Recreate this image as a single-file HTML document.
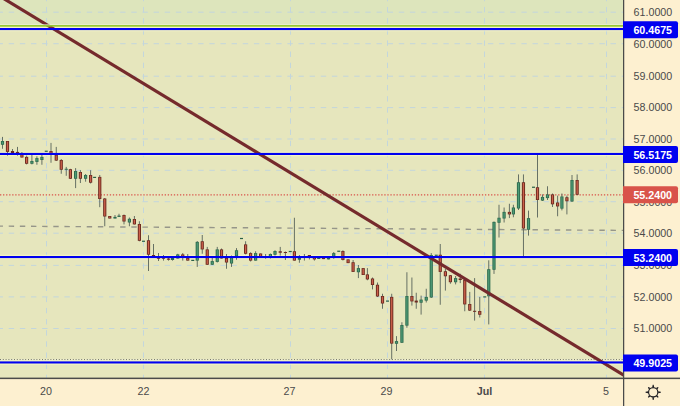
<!DOCTYPE html><html><head><meta charset="utf-8"><title>chart</title>
<style>html,body{margin:0;padding:0;background:#fdf0d0;overflow:hidden}svg{display:block}text{font-family:"Liberation Sans",sans-serif;font-size:10.7px}</style>
</head><body>
<svg width="680" height="406" viewBox="0 0 680 406">
<rect x="0" y="0" width="680" height="406" fill="#fdf0d0"/>
<rect x="0" y="0" width="623" height="378" fill="#e6e6bd"/>
<rect x="0" y="0" width="623" height="25" fill="#dde5bc"/>
<g stroke="#c3d6dc" stroke-width="1" stroke-dasharray="5.4 5.745" fill="none">
<line x1="0" y1="360.0" x2="623" y2="360.0" stroke-dashoffset="2.43"/>
<line x1="0" y1="328.5" x2="623" y2="328.5" stroke-dashoffset="2.43"/>
<line x1="0" y1="296.9" x2="623" y2="296.9" stroke-dashoffset="2.43"/>
<line x1="0" y1="265.4" x2="623" y2="265.4" stroke-dashoffset="2.43"/>
<line x1="0" y1="233.2" x2="623" y2="233.2" stroke-dashoffset="2.43"/>
<line x1="0" y1="201.7" x2="623" y2="201.7" stroke-dashoffset="2.43"/>
<line x1="0" y1="170.3" x2="623" y2="170.3" stroke-dashoffset="2.43"/>
<line x1="0" y1="139.0" x2="623" y2="139.0" stroke-dashoffset="2.43"/>
<line x1="0" y1="107.6" x2="623" y2="107.6" stroke-dashoffset="2.43"/>
<line x1="0" y1="76.2" x2="623" y2="76.2" stroke-dashoffset="2.43"/>
<line x1="0" y1="43.7" x2="623" y2="43.7" stroke-dashoffset="2.43"/>
<line x1="0" y1="12.2" x2="623" y2="12.2" stroke-dashoffset="2.43"/>
<line x1="46.5" y1="0" x2="46.5" y2="378" stroke-dashoffset="4.17"/>
<line x1="143.5" y1="0" x2="143.5" y2="378" stroke-dashoffset="4.17"/>
<line x1="290.5" y1="0" x2="290.5" y2="378" stroke-dashoffset="4.17"/>
<line x1="387.5" y1="0" x2="387.5" y2="378" stroke-dashoffset="4.17"/>
<line x1="484.5" y1="0" x2="484.5" y2="378" stroke-dashoffset="4.17"/>
<line x1="606.5" y1="0" x2="606.5" y2="378" stroke-dashoffset="4.17"/>
</g>
<line x1="0" y1="226.1" x2="623" y2="230.4" stroke="#96968a" stroke-width="1.4" stroke-dasharray="5.4 5.745" stroke-dashoffset="2.43"/>
<line x1="0" y1="194.8" x2="623" y2="194.8" stroke="#d9534a" stroke-width="1.25" stroke-dasharray="1.3 1.75"/>
<rect x="0" y="359" width="623" height="1.3" fill="#f6f6d6" opacity="0.7"/>
<line x1="0" y1="359.6" x2="623" y2="359.6" stroke="#6a6a60" stroke-width="1" stroke-dasharray="1 1.8"/>
<rect x="0" y="26.8" width="623" height="4.5" fill="#f8f8c6" opacity="0.8"/>
<rect x="0" y="151.7" width="623" height="4.5" fill="#f8f8c6" opacity="0.8"/>
<rect x="0" y="254.8" width="623" height="4.5" fill="#f8f8c6" opacity="0.8"/>
<rect x="0" y="360.2" width="623" height="4.5" fill="#f8f8c6" opacity="0.8"/>
<g id="candles">
<rect x="2.00" y="136.90" width="1" height="11.85" fill="#667064"/>
<rect x="0.90" y="141.00" width="3.2" height="3.75" fill="#2d6b4f"/>
<rect x="1.85" y="141.70" width="1.3" height="2.35" fill="#4f9b76"/>
<rect x="7.00" y="141.00" width="1" height="14.60" fill="#667064"/>
<rect x="5.90" y="141.00" width="3.2" height="10.90" fill="#6c2a20"/>
<rect x="6.85" y="141.70" width="1.3" height="9.50" fill="#cc604a"/>
<rect x="12.00" y="149.00" width="1" height="5.00" fill="#667064"/>
<rect x="10.90" y="151.00" width="3.2" height="2.00" fill="#6c2a20"/>
<rect x="17.00" y="146.90" width="1" height="8.70" fill="#667064"/>
<rect x="15.90" y="151.90" width="3.2" height="1.60" fill="#6c2a20"/>
<rect x="21.40" y="152.00" width="1" height="5.50" fill="#667064"/>
<rect x="20.30" y="153.50" width="3.2" height="4.00" fill="#6c2a20"/>
<rect x="21.25" y="154.20" width="1.3" height="2.60" fill="#cc604a"/>
<rect x="26.10" y="155.60" width="1" height="8.80" fill="#667064"/>
<rect x="25.00" y="156.90" width="3.2" height="6.85" fill="#6c2a20"/>
<rect x="25.95" y="157.60" width="1.3" height="5.45" fill="#cc604a"/>
<rect x="31.40" y="155.00" width="1" height="9.40" fill="#667064"/>
<rect x="30.30" y="161.00" width="3.2" height="2.75" fill="#2d6b4f"/>
<rect x="31.25" y="161.70" width="1.3" height="1.35" fill="#4f9b76"/>
<rect x="36.40" y="156.25" width="1" height="8.50" fill="#667064"/>
<rect x="35.30" y="158.10" width="3.2" height="3.80" fill="#2d6b4f"/>
<rect x="36.25" y="158.80" width="1.3" height="2.40" fill="#4f9b76"/>
<rect x="41.40" y="155.00" width="1" height="9.75" fill="#667064"/>
<rect x="40.30" y="156.90" width="3.2" height="3.10" fill="#2d6b4f"/>
<rect x="41.25" y="157.60" width="1.3" height="1.70" fill="#4f9b76"/>
<rect x="44.75" y="150.65" width="3" height="1.2" fill="#2a6048"/>
<rect x="50.50" y="142.90" width="1" height="19.85" fill="#667064"/>
<rect x="49.40" y="151.00" width="3.2" height="3.00" fill="#6c2a20"/>
<rect x="50.35" y="151.70" width="1.3" height="1.60" fill="#cc604a"/>
<rect x="55.75" y="146.90" width="1" height="14.10" fill="#667064"/>
<rect x="54.65" y="154.75" width="3.2" height="5.85" fill="#6c2a20"/>
<rect x="55.60" y="155.45" width="1.3" height="4.45" fill="#cc604a"/>
<rect x="60.75" y="159.00" width="1" height="14.75" fill="#667064"/>
<rect x="59.65" y="160.00" width="3.2" height="9.75" fill="#6c2a20"/>
<rect x="60.60" y="160.70" width="1.3" height="8.35" fill="#cc604a"/>
<rect x="65.75" y="166.90" width="1" height="8.90" fill="#667064"/>
<rect x="64.65" y="168.75" width="3.2" height="1.00" fill="#2d6b4f"/>
<rect x="69.90" y="168.80" width="1" height="10.20" fill="#667064"/>
<rect x="68.80" y="169.20" width="3.2" height="9.55" fill="#6c2a20"/>
<rect x="69.75" y="169.90" width="1.3" height="8.15" fill="#cc604a"/>
<rect x="75.10" y="168.10" width="1" height="20.00" fill="#667064"/>
<rect x="74.00" y="171.00" width="3.2" height="7.75" fill="#2d6b4f"/>
<rect x="74.95" y="171.70" width="1.3" height="6.35" fill="#4f9b76"/>
<rect x="79.90" y="170.10" width="1" height="12.90" fill="#667064"/>
<rect x="78.80" y="172.00" width="3.2" height="6.75" fill="#6c2a20"/>
<rect x="79.75" y="172.70" width="1.3" height="5.35" fill="#cc604a"/>
<rect x="85.10" y="174.00" width="1" height="7.70" fill="#667064"/>
<rect x="84.00" y="175.00" width="3.2" height="3.75" fill="#2d6b4f"/>
<rect x="84.95" y="175.70" width="1.3" height="2.35" fill="#4f9b76"/>
<rect x="90.10" y="170.20" width="1" height="13.30" fill="#667064"/>
<rect x="89.00" y="175.00" width="3.2" height="7.70" fill="#6c2a20"/>
<rect x="89.95" y="175.70" width="1.3" height="6.30" fill="#cc604a"/>
<rect x="93.10" y="176.80" width="3" height="1.2" fill="#2a6048"/>
<rect x="99.25" y="175.00" width="1" height="32.20" fill="#667064"/>
<rect x="98.15" y="176.90" width="3.2" height="22.10" fill="#6c2a20"/>
<rect x="99.10" y="177.60" width="1.3" height="20.70" fill="#cc604a"/>
<rect x="104.25" y="198.00" width="1" height="28.25" fill="#667064"/>
<rect x="103.15" y="198.50" width="3.2" height="18.00" fill="#6c2a20"/>
<rect x="104.10" y="199.20" width="1.3" height="16.60" fill="#cc604a"/>
<rect x="109.25" y="216.00" width="1" height="2.50" fill="#667064"/>
<rect x="108.15" y="216.00" width="3.2" height="2.50" fill="#6c2a20"/>
<rect x="109.10" y="216.70" width="1.3" height="1.10" fill="#cc604a"/>
<rect x="114.50" y="215.00" width="1" height="3.50" fill="#667064"/>
<rect x="113.40" y="216.90" width="3.2" height="1.60" fill="#2d6b4f"/>
<rect x="118.50" y="213.75" width="1" height="3.25" fill="#667064"/>
<rect x="117.40" y="215.60" width="3.2" height="1.30" fill="#2d6b4f"/>
<rect x="123.50" y="214.50" width="1" height="9.90" fill="#667064"/>
<rect x="122.40" y="215.00" width="3.2" height="6.50" fill="#6c2a20"/>
<rect x="123.35" y="215.70" width="1.3" height="5.10" fill="#cc604a"/>
<rect x="128.90" y="217.50" width="1" height="8.75" fill="#667064"/>
<rect x="127.80" y="218.75" width="3.2" height="3.75" fill="#2d6b4f"/>
<rect x="128.75" y="219.45" width="1.3" height="2.35" fill="#4f9b76"/>
<rect x="133.90" y="216.00" width="1" height="8.50" fill="#667064"/>
<rect x="132.80" y="219.00" width="3.2" height="5.40" fill="#6c2a20"/>
<rect x="133.75" y="219.70" width="1.3" height="4.00" fill="#cc604a"/>
<rect x="138.90" y="221.25" width="1" height="20.05" fill="#667064"/>
<rect x="137.80" y="224.00" width="3.2" height="16.80" fill="#6c2a20"/>
<rect x="138.75" y="224.70" width="1.3" height="15.40" fill="#cc604a"/>
<rect x="142.00" y="240.65" width="3" height="1.2" fill="#2a6048"/>
<rect x="148.00" y="235.25" width="1" height="35.75" fill="#667064"/>
<rect x="146.90" y="240.25" width="3.2" height="14.50" fill="#6c2a20"/>
<rect x="147.85" y="240.95" width="1.3" height="13.10" fill="#cc604a"/>
<rect x="153.00" y="244.00" width="1" height="13.00" fill="#667064"/>
<rect x="151.90" y="255.00" width="3.2" height="2.00" fill="#6c2a20"/>
<rect x="158.00" y="253.00" width="1" height="8.00" fill="#667064"/>
<rect x="156.90" y="257.50" width="3.2" height="1.25" fill="#6c2a20"/>
<rect x="163.00" y="255.00" width="1" height="5.60" fill="#667064"/>
<rect x="161.90" y="257.00" width="3.2" height="1.75" fill="#6c2a20"/>
<rect x="168.00" y="257.00" width="1" height="3.60" fill="#667064"/>
<rect x="166.90" y="258.50" width="3.2" height="1.25" fill="#6c2a20"/>
<rect x="172.00" y="257.00" width="1" height="3.60" fill="#667064"/>
<rect x="170.90" y="258.00" width="3.2" height="2.00" fill="#2d6b4f"/>
<rect x="177.25" y="253.80" width="1" height="4.70" fill="#667064"/>
<rect x="176.15" y="254.40" width="3.2" height="4.10" fill="#2d6b4f"/>
<rect x="177.10" y="255.10" width="1.3" height="2.70" fill="#4f9b76"/>
<rect x="182.25" y="253.00" width="1" height="7.60" fill="#667064"/>
<rect x="181.15" y="254.40" width="3.2" height="3.10" fill="#6c2a20"/>
<rect x="182.10" y="255.10" width="1.3" height="1.70" fill="#cc604a"/>
<rect x="187.25" y="254.00" width="1" height="6.60" fill="#667064"/>
<rect x="186.15" y="258.00" width="3.2" height="2.60" fill="#6c2a20"/>
<rect x="187.10" y="258.70" width="1.3" height="1.20" fill="#cc604a"/>
<rect x="191.25" y="259.80" width="3" height="1.2" fill="#2a6048"/>
<rect x="196.75" y="241.00" width="1" height="25.90" fill="#667064"/>
<rect x="195.65" y="241.90" width="3.2" height="18.70" fill="#2d6b4f"/>
<rect x="196.60" y="242.60" width="1.3" height="17.30" fill="#4f9b76"/>
<rect x="201.75" y="235.00" width="1" height="18.75" fill="#667064"/>
<rect x="200.65" y="241.25" width="3.2" height="8.15" fill="#6c2a20"/>
<rect x="201.60" y="241.95" width="1.3" height="6.75" fill="#cc604a"/>
<rect x="206.75" y="246.90" width="1" height="18.10" fill="#667064"/>
<rect x="205.65" y="249.40" width="3.2" height="15.35" fill="#6c2a20"/>
<rect x="206.60" y="250.10" width="1.3" height="13.95" fill="#cc604a"/>
<rect x="211.75" y="258.00" width="1" height="7.00" fill="#667064"/>
<rect x="210.65" y="261.10" width="3.2" height="3.65" fill="#2d6b4f"/>
<rect x="211.60" y="261.80" width="1.3" height="2.25" fill="#4f9b76"/>
<rect x="216.75" y="246.90" width="1" height="15.60" fill="#667064"/>
<rect x="215.65" y="249.40" width="3.2" height="12.50" fill="#2d6b4f"/>
<rect x="216.60" y="250.10" width="1.3" height="11.10" fill="#4f9b76"/>
<rect x="221.00" y="248.50" width="1" height="10.00" fill="#667064"/>
<rect x="219.90" y="249.40" width="3.2" height="9.10" fill="#6c2a20"/>
<rect x="220.85" y="250.10" width="1.3" height="7.70" fill="#cc604a"/>
<rect x="226.00" y="254.00" width="1" height="14.75" fill="#667064"/>
<rect x="224.90" y="258.00" width="3.2" height="4.50" fill="#6c2a20"/>
<rect x="225.85" y="258.70" width="1.3" height="3.10" fill="#cc604a"/>
<rect x="231.00" y="255.50" width="1" height="11.40" fill="#667064"/>
<rect x="229.90" y="257.50" width="3.2" height="6.00" fill="#2d6b4f"/>
<rect x="230.85" y="258.20" width="1.3" height="4.60" fill="#4f9b76"/>
<rect x="236.00" y="248.10" width="1" height="11.65" fill="#667064"/>
<rect x="234.90" y="250.25" width="3.2" height="6.00" fill="#2d6b4f"/>
<rect x="235.85" y="250.95" width="1.3" height="4.60" fill="#4f9b76"/>
<rect x="240.00" y="237.90" width="3" height="1.2" fill="#2a6048"/>
<rect x="245.10" y="241.25" width="1" height="13.15" fill="#667064"/>
<rect x="244.00" y="244.40" width="3.2" height="9.35" fill="#6c2a20"/>
<rect x="244.95" y="245.10" width="1.3" height="7.95" fill="#cc604a"/>
<rect x="250.10" y="252.25" width="1" height="9.25" fill="#667064"/>
<rect x="249.00" y="253.10" width="3.2" height="7.50" fill="#6c2a20"/>
<rect x="249.95" y="253.80" width="1.3" height="6.10" fill="#cc604a"/>
<rect x="255.10" y="251.25" width="1" height="9.35" fill="#667064"/>
<rect x="254.00" y="253.10" width="3.2" height="7.50" fill="#2d6b4f"/>
<rect x="254.95" y="253.80" width="1.3" height="6.10" fill="#4f9b76"/>
<rect x="260.10" y="253.50" width="1" height="4.50" fill="#667064"/>
<rect x="259.00" y="253.50" width="3.2" height="4.50" fill="#6c2a20"/>
<rect x="259.95" y="254.20" width="1.3" height="3.10" fill="#cc604a"/>
<rect x="265.10" y="254.00" width="1" height="4.75" fill="#667064"/>
<rect x="264.00" y="256.50" width="3.2" height="1.00" fill="#6c2a20"/>
<rect x="269.90" y="253.50" width="1" height="5.00" fill="#667064"/>
<rect x="268.80" y="254.00" width="3.2" height="3.00" fill="#2d6b4f"/>
<rect x="269.75" y="254.70" width="1.3" height="1.60" fill="#4f9b76"/>
<rect x="274.50" y="250.25" width="1" height="5.35" fill="#667064"/>
<rect x="273.40" y="251.00" width="3.2" height="3.75" fill="#2d6b4f"/>
<rect x="274.35" y="251.70" width="1.3" height="2.35" fill="#4f9b76"/>
<rect x="279.75" y="246.90" width="1" height="8.70" fill="#667064"/>
<rect x="278.65" y="251.25" width="3.2" height="1.50" fill="#6c2a20"/>
<rect x="284.90" y="251.50" width="1" height="8.50" fill="#667064"/>
<rect x="283.80" y="252.00" width="3.2" height="1.00" fill="#6c2a20"/>
<rect x="288.75" y="250.90" width="3" height="1.2" fill="#2a6048"/>
<rect x="293.90" y="217.75" width="1" height="42.85" fill="#667064"/>
<rect x="292.80" y="251.25" width="3.2" height="9.35" fill="#6c2a20"/>
<rect x="293.75" y="251.95" width="1.3" height="7.95" fill="#cc604a"/>
<rect x="298.90" y="255.00" width="1" height="7.75" fill="#667064"/>
<rect x="297.80" y="257.75" width="3.2" height="2.00" fill="#2d6b4f"/>
<rect x="303.90" y="254.00" width="1" height="6.60" fill="#667064"/>
<rect x="302.80" y="256.50" width="3.2" height="1.50" fill="#2d6b4f"/>
<rect x="308.90" y="255.00" width="1" height="4.40" fill="#667064"/>
<rect x="307.80" y="255.00" width="3.2" height="2.00" fill="#6c2a20"/>
<rect x="313.90" y="257.00" width="1" height="3.60" fill="#667064"/>
<rect x="312.80" y="257.00" width="3.2" height="2.40" fill="#6c2a20"/>
<rect x="313.75" y="257.70" width="1.3" height="1.00" fill="#cc604a"/>
<rect x="318.25" y="257.50" width="1" height="1.50" fill="#667064"/>
<rect x="317.15" y="257.50" width="3.2" height="1.50" fill="#2d6b4f"/>
<rect x="323.00" y="257.50" width="1" height="1.60" fill="#667064"/>
<rect x="321.90" y="257.50" width="3.2" height="1.60" fill="#6c2a20"/>
<rect x="328.00" y="257.50" width="1" height="1.90" fill="#667064"/>
<rect x="326.90" y="257.50" width="3.2" height="1.90" fill="#2d6b4f"/>
<rect x="333.25" y="252.00" width="1" height="6.75" fill="#667064"/>
<rect x="332.15" y="253.10" width="3.2" height="3.90" fill="#2d6b4f"/>
<rect x="333.10" y="253.80" width="1.3" height="2.50" fill="#4f9b76"/>
<rect x="337.25" y="250.65" width="3" height="1.2" fill="#2a6048"/>
<rect x="342.40" y="250.25" width="1" height="10.25" fill="#667064"/>
<rect x="341.30" y="251.00" width="3.2" height="9.00" fill="#6c2a20"/>
<rect x="342.25" y="251.70" width="1.3" height="7.60" fill="#cc604a"/>
<rect x="347.60" y="259.40" width="1" height="3.70" fill="#667064"/>
<rect x="346.50" y="259.40" width="3.2" height="3.70" fill="#6c2a20"/>
<rect x="347.45" y="260.10" width="1.3" height="2.30" fill="#cc604a"/>
<rect x="352.60" y="260.00" width="1" height="12.00" fill="#667064"/>
<rect x="351.50" y="262.25" width="3.2" height="9.65" fill="#6c2a20"/>
<rect x="352.45" y="262.95" width="1.3" height="8.25" fill="#cc604a"/>
<rect x="357.90" y="265.00" width="1" height="13.10" fill="#667064"/>
<rect x="356.80" y="268.10" width="3.2" height="4.15" fill="#2d6b4f"/>
<rect x="357.75" y="268.80" width="1.3" height="2.75" fill="#4f9b76"/>
<rect x="362.70" y="268.10" width="1" height="6.90" fill="#667064"/>
<rect x="361.60" y="268.10" width="3.2" height="6.90" fill="#6c2a20"/>
<rect x="362.55" y="268.80" width="1.3" height="5.50" fill="#cc604a"/>
<rect x="366.90" y="268.10" width="1" height="12.15" fill="#667064"/>
<rect x="365.80" y="274.40" width="3.2" height="5.00" fill="#6c2a20"/>
<rect x="366.75" y="275.10" width="1.3" height="3.60" fill="#cc604a"/>
<rect x="372.00" y="277.50" width="1" height="11.90" fill="#667064"/>
<rect x="370.90" y="278.50" width="3.2" height="6.50" fill="#6c2a20"/>
<rect x="371.85" y="279.20" width="1.3" height="5.10" fill="#cc604a"/>
<rect x="377.00" y="282.50" width="1" height="14.50" fill="#667064"/>
<rect x="375.90" y="284.75" width="3.2" height="11.75" fill="#6c2a20"/>
<rect x="376.85" y="285.45" width="1.3" height="10.35" fill="#cc604a"/>
<rect x="382.00" y="293.75" width="1" height="15.00" fill="#667064"/>
<rect x="380.90" y="296.00" width="3.2" height="7.50" fill="#6c2a20"/>
<rect x="381.85" y="296.70" width="1.3" height="6.10" fill="#cc604a"/>
<rect x="386.00" y="300.50" width="3" height="1.2" fill="#2a6048"/>
<rect x="391.20" y="293.75" width="1" height="65.65" fill="#667064"/>
<rect x="390.10" y="296.90" width="3.2" height="46.70" fill="#6c2a20"/>
<rect x="391.05" y="297.60" width="1.3" height="45.30" fill="#cc604a"/>
<rect x="396.00" y="336.10" width="1" height="14.90" fill="#667064"/>
<rect x="394.90" y="341.10" width="3.2" height="2.65" fill="#2d6b4f"/>
<rect x="395.85" y="341.80" width="1.3" height="1.25" fill="#4f9b76"/>
<rect x="401.40" y="322.25" width="1" height="20.75" fill="#667064"/>
<rect x="400.30" y="325.00" width="3.2" height="17.75" fill="#2d6b4f"/>
<rect x="401.25" y="325.70" width="1.3" height="16.35" fill="#4f9b76"/>
<rect x="406.40" y="272.25" width="1" height="55.50" fill="#667064"/>
<rect x="405.30" y="296.00" width="3.2" height="29.60" fill="#2d6b4f"/>
<rect x="406.25" y="296.70" width="1.3" height="28.20" fill="#4f9b76"/>
<rect x="411.40" y="277.50" width="1" height="28.10" fill="#667064"/>
<rect x="410.30" y="296.00" width="3.2" height="5.40" fill="#6c2a20"/>
<rect x="411.25" y="296.70" width="1.3" height="4.00" fill="#cc604a"/>
<rect x="415.75" y="292.75" width="1" height="16.00" fill="#667064"/>
<rect x="414.65" y="300.60" width="3.2" height="1.90" fill="#6c2a20"/>
<rect x="420.60" y="295.60" width="1" height="19.00" fill="#667064"/>
<rect x="419.50" y="299.60" width="3.2" height="3.10" fill="#2d6b4f"/>
<rect x="420.45" y="300.30" width="1.3" height="1.70" fill="#4f9b76"/>
<rect x="425.75" y="288.75" width="1" height="13.75" fill="#667064"/>
<rect x="424.65" y="296.90" width="3.2" height="3.70" fill="#2d6b4f"/>
<rect x="425.60" y="297.60" width="1.3" height="2.30" fill="#4f9b76"/>
<rect x="430.75" y="253.10" width="1" height="44.90" fill="#667064"/>
<rect x="429.65" y="255.00" width="3.2" height="42.50" fill="#2d6b4f"/>
<rect x="430.60" y="255.70" width="1.3" height="41.10" fill="#4f9b76"/>
<rect x="434.75" y="254.65" width="3" height="1.2" fill="#2a6048"/>
<rect x="439.75" y="244.00" width="1" height="60.75" fill="#667064"/>
<rect x="438.65" y="254.75" width="3.2" height="17.15" fill="#6c2a20"/>
<rect x="439.60" y="255.45" width="1.3" height="15.75" fill="#cc604a"/>
<rect x="444.90" y="269.00" width="1" height="21.60" fill="#667064"/>
<rect x="443.80" y="271.25" width="3.2" height="5.00" fill="#6c2a20"/>
<rect x="444.75" y="271.95" width="1.3" height="3.60" fill="#cc604a"/>
<rect x="449.90" y="275.00" width="1" height="8.75" fill="#667064"/>
<rect x="448.80" y="275.25" width="3.2" height="6.95" fill="#6c2a20"/>
<rect x="449.75" y="275.95" width="1.3" height="5.55" fill="#cc604a"/>
<rect x="455.10" y="276.00" width="1" height="8.40" fill="#667064"/>
<rect x="454.00" y="278.10" width="3.2" height="4.15" fill="#2d6b4f"/>
<rect x="454.95" y="278.80" width="1.3" height="2.75" fill="#4f9b76"/>
<rect x="459.75" y="273.75" width="1" height="9.35" fill="#667064"/>
<rect x="458.65" y="278.50" width="3.2" height="1.50" fill="#6c2a20"/>
<rect x="464.25" y="279.50" width="1" height="31.75" fill="#667064"/>
<rect x="463.15" y="280.00" width="3.2" height="24.40" fill="#6c2a20"/>
<rect x="464.10" y="280.70" width="1.3" height="23.00" fill="#cc604a"/>
<rect x="469.25" y="291.90" width="1" height="19.10" fill="#667064"/>
<rect x="468.15" y="304.00" width="3.2" height="6.60" fill="#6c2a20"/>
<rect x="469.10" y="304.70" width="1.3" height="5.20" fill="#cc604a"/>
<rect x="474.10" y="278.10" width="1" height="42.50" fill="#667064"/>
<rect x="473.00" y="310.80" width="3.2" height="1.00" fill="#6c2a20"/>
<rect x="479.25" y="296.90" width="1" height="20.60" fill="#667064"/>
<rect x="478.15" y="311.00" width="3.2" height="3.75" fill="#6c2a20"/>
<rect x="479.10" y="311.70" width="1.3" height="2.35" fill="#cc604a"/>
<rect x="483.25" y="296.30" width="3" height="1.2" fill="#2a6048"/>
<rect x="488.25" y="260.30" width="1" height="64.10" fill="#667064"/>
<rect x="487.15" y="269.20" width="3.2" height="27.05" fill="#2d6b4f"/>
<rect x="488.10" y="269.90" width="1.3" height="25.65" fill="#4f9b76"/>
<rect x="493.50" y="221.50" width="1" height="52.40" fill="#667064"/>
<rect x="492.40" y="221.90" width="3.2" height="47.85" fill="#2d6b4f"/>
<rect x="493.35" y="222.60" width="1.3" height="46.45" fill="#4f9b76"/>
<rect x="498.50" y="204.75" width="1" height="32.75" fill="#667064"/>
<rect x="497.40" y="217.75" width="3.2" height="5.00" fill="#2d6b4f"/>
<rect x="498.35" y="218.45" width="1.3" height="3.60" fill="#4f9b76"/>
<rect x="503.60" y="207.50" width="1" height="15.00" fill="#667064"/>
<rect x="502.50" y="211.90" width="3.2" height="6.60" fill="#2d6b4f"/>
<rect x="503.45" y="212.60" width="1.3" height="5.20" fill="#4f9b76"/>
<rect x="508.90" y="203.75" width="1" height="14.35" fill="#667064"/>
<rect x="507.80" y="211.90" width="3.2" height="2.50" fill="#6c2a20"/>
<rect x="508.75" y="212.60" width="1.3" height="1.10" fill="#cc604a"/>
<rect x="512.90" y="204.75" width="1" height="12.50" fill="#667064"/>
<rect x="511.80" y="207.50" width="3.2" height="6.90" fill="#2d6b4f"/>
<rect x="512.75" y="208.20" width="1.3" height="5.50" fill="#4f9b76"/>
<rect x="518.00" y="174.40" width="1" height="35.60" fill="#667064"/>
<rect x="516.90" y="182.25" width="3.2" height="26.25" fill="#2d6b4f"/>
<rect x="517.85" y="182.95" width="1.3" height="24.85" fill="#4f9b76"/>
<rect x="522.95" y="174.40" width="1" height="81.60" fill="#667064"/>
<rect x="521.85" y="182.25" width="3.2" height="46.25" fill="#6c2a20"/>
<rect x="522.80" y="182.95" width="1.3" height="44.85" fill="#cc604a"/>
<rect x="528.00" y="210.60" width="1" height="25.00" fill="#667064"/>
<rect x="526.90" y="218.10" width="3.2" height="11.65" fill="#2d6b4f"/>
<rect x="527.85" y="218.80" width="1.3" height="10.25" fill="#4f9b76"/>
<rect x="532.00" y="186.65" width="3" height="1.2" fill="#2a6048"/>
<rect x="537.00" y="155.00" width="1" height="62.50" fill="#667064"/>
<rect x="535.90" y="187.25" width="3.2" height="12.75" fill="#6c2a20"/>
<rect x="536.85" y="187.95" width="1.3" height="11.35" fill="#cc604a"/>
<rect x="542.00" y="194.40" width="1" height="6.60" fill="#667064"/>
<rect x="540.90" y="196.90" width="3.2" height="3.70" fill="#2d6b4f"/>
<rect x="541.85" y="197.60" width="1.3" height="2.30" fill="#4f9b76"/>
<rect x="547.00" y="186.25" width="1" height="13.75" fill="#667064"/>
<rect x="545.90" y="194.40" width="3.2" height="3.70" fill="#2d6b4f"/>
<rect x="546.85" y="195.10" width="1.3" height="2.30" fill="#4f9b76"/>
<rect x="552.00" y="193.50" width="1" height="13.50" fill="#667064"/>
<rect x="550.90" y="194.40" width="3.2" height="9.90" fill="#6c2a20"/>
<rect x="551.85" y="195.10" width="1.3" height="8.50" fill="#cc604a"/>
<rect x="557.10" y="195.60" width="1" height="20.65" fill="#667064"/>
<rect x="556.00" y="202.50" width="3.2" height="3.90" fill="#6c2a20"/>
<rect x="556.95" y="203.20" width="1.3" height="2.50" fill="#cc604a"/>
<rect x="561.40" y="193.50" width="1" height="16.90" fill="#667064"/>
<rect x="560.30" y="196.50" width="3.2" height="12.10" fill="#2d6b4f"/>
<rect x="561.25" y="197.20" width="1.3" height="10.70" fill="#4f9b76"/>
<rect x="566.40" y="195.60" width="1" height="18.80" fill="#667064"/>
<rect x="565.30" y="197.25" width="3.2" height="4.00" fill="#6c2a20"/>
<rect x="566.25" y="197.95" width="1.3" height="2.60" fill="#cc604a"/>
<rect x="571.50" y="175.00" width="1" height="27.00" fill="#667064"/>
<rect x="570.40" y="180.00" width="3.2" height="21.50" fill="#2d6b4f"/>
<rect x="571.35" y="180.70" width="1.3" height="20.10" fill="#4f9b76"/>
<rect x="576.65" y="174.40" width="1" height="20.60" fill="#667064"/>
<rect x="575.55" y="180.00" width="3.2" height="14.75" fill="#6c2a20"/>
<rect x="576.50" y="180.70" width="1.3" height="13.35" fill="#cc604a"/>
</g>
<line x1="-14" y1="-12.15" x2="643" y2="386.95" stroke="#752a2c" stroke-width="3.15"/>
<rect x="0" y="24" width="623" height="1" fill="#efefd8" opacity="0.6"/>
<rect x="0" y="25" width="623" height="1.7" fill="#96c832"/>
<rect x="0" y="28.0" width="623" height="2.1" fill="#0000f0"/>
<rect x="0" y="152.9" width="623" height="2.1" fill="#0000f0"/>
<rect x="0" y="256.0" width="623" height="2.1" fill="#0000f0"/>
<rect x="0" y="361.4" width="623" height="2.1" fill="#0000f0"/>
<rect x="624" y="0" width="56" height="406" fill="#fdf0d0"/>
<rect x="0" y="379" width="680" height="27" fill="#fdf0d0"/>
<rect x="623.0" y="0" width="1.25" height="406" fill="#4a4a4a"/>
<rect x="0" y="377.6" width="680" height="1.5" fill="#4a4a4a"/>
<text x="633.6" y="16.0" fill="#4a4a4a">61.0000</text>
<text x="633.6" y="47.5" fill="#4a4a4a">60.0000</text>
<text x="633.6" y="80.0" fill="#4a4a4a">59.0000</text>
<text x="633.6" y="111.4" fill="#4a4a4a">58.0000</text>
<text x="633.6" y="142.8" fill="#4a4a4a">57.0000</text>
<text x="633.6" y="174.1" fill="#4a4a4a">56.0000</text>
<text x="633.6" y="205.5" fill="#4a4a4a">55.0000</text>
<text x="633.6" y="237.0" fill="#4a4a4a">54.0000</text>
<text x="633.6" y="269.2" fill="#4a4a4a">53.0000</text>
<text x="633.6" y="300.7" fill="#4a4a4a">52.0000</text>
<text x="633.6" y="332.3" fill="#4a4a4a">51.0000</text>
<text x="633.6" y="363.8" fill="#4a4a4a">50.0000</text>
<path d="M623 21.3 h53 a2 2 0 0 1 2 2 v13 a2 2 0 0 1 -2 2 h-53 z" fill="#0000f0"/>
<text x="633.4" y="34.2" fill="#fff" font-weight="bold">60.4675</text>
<path d="M623 145.9 h53 a2 2 0 0 1 2 2 v13 a2 2 0 0 1 -2 2 h-53 z" fill="#0000f0"/>
<text x="633.4" y="158.8" fill="#fff" font-weight="bold">56.5175</text>
<path d="M623 248.9 h53 a2 2 0 0 1 2 2 v13 a2 2 0 0 1 -2 2 h-53 z" fill="#0000f0"/>
<text x="633.4" y="261.8" fill="#fff" font-weight="bold">53.2400</text>
<path d="M623 354.5 h53 a2 2 0 0 1 2 2 v13 a2 2 0 0 1 -2 2 h-53 z" fill="#0000f0"/>
<text x="633.4" y="367.4" fill="#fff" font-weight="bold">49.9025</text>
<path d="M623 186.2 h53 a2 2 0 0 1 2 2 v13 a2 2 0 0 1 -2 2 h-53 z" fill="#d9534a"/>
<text x="633.4" y="199.1" fill="#fff" font-weight="bold">55.2400</text>
<text x="46.0" y="395" fill="#4a4a4a" text-anchor="middle" font-size="11.5">20</text>
<text x="143.5" y="395" fill="#4a4a4a" text-anchor="middle" font-size="11.5">22</text>
<text x="289.5" y="395" fill="#4a4a4a" text-anchor="middle" font-size="11.5">27</text>
<text x="386.5" y="395" fill="#4a4a4a" text-anchor="middle" font-size="11.5">29</text>
<text x="484.5" y="395" fill="#4a4a4a" text-anchor="middle" font-size="11.5" font-weight="bold">Jul</text>
<text x="606.0" y="395" fill="#4a4a4a" text-anchor="middle" font-size="11.5">5</text>
<g transform="translate(653.2,392.3)"><circle r="4.65" stroke="#1e1e22" fill="none" stroke-width="1.15"/>
<polygon points="-1,-5 1,-5 0.45,-7.6 -0.45,-7.6" fill="#1e1e22" transform="rotate(0)"/>
<polygon points="-1,-5 1,-5 0.45,-7.1 -0.45,-7.1" fill="#1e1e22" transform="rotate(45)"/>
<polygon points="-1,-5 1,-5 0.45,-7.6 -0.45,-7.6" fill="#1e1e22" transform="rotate(90)"/>
<polygon points="-1,-5 1,-5 0.45,-7.1 -0.45,-7.1" fill="#1e1e22" transform="rotate(135)"/>
<polygon points="-1,-5 1,-5 0.45,-7.6 -0.45,-7.6" fill="#1e1e22" transform="rotate(180)"/>
<polygon points="-1,-5 1,-5 0.45,-7.1 -0.45,-7.1" fill="#1e1e22" transform="rotate(225)"/>
<polygon points="-1,-5 1,-5 0.45,-7.6 -0.45,-7.6" fill="#1e1e22" transform="rotate(270)"/>
<polygon points="-1,-5 1,-5 0.45,-7.1 -0.45,-7.1" fill="#1e1e22" transform="rotate(315)"/>
</g>
</svg></body></html>
